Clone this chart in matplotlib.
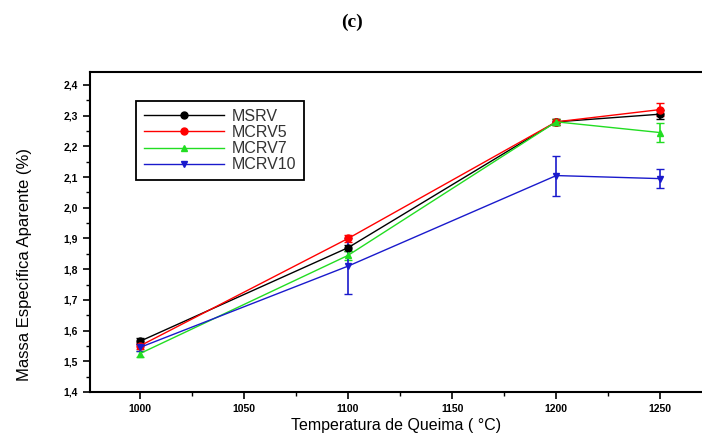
import matplotlib
matplotlib.use('Agg')
import matplotlib.pyplot as plt
from matplotlib.ticker import MultipleLocator, FuncFormatter

plt.rcParams['font.family'] = ['Liberation Sans', 'DejaVu Sans']

# temperatures (°C)
temps = [1000, 1100, 1200, 1250]

# apparent specific mass per composition
msrv = [1.565, 1.87, 2.28, 2.305]
mcrv5 = [1.55, 1.90, 2.28, 2.32]
mcrv7 = [1.525, 1.845, 2.28, 2.245]
mcrv10 = [1.545, 1.81, 2.105, 2.095]

# error bars
msrv_err = [0.01, 0.01, 0.01, 0.015]
mcrv5_err = [0.01, 0.01, 0.01, 0.02]
mcrv7_err = [0.01, 0.015, 0.01, 0.03]
mcrv10_err = [0.01, 0.09, 0.065, 0.03]

series = [
    ('MSRV', msrv, msrv_err, 'black', 'o'),
    ('MCRV5', mcrv5, mcrv5_err, 'red', 'o'),
    ('MCRV7', mcrv7, mcrv7_err, '#22dd22', '^'),
    ('MCRV10', mcrv10, mcrv10_err, '#1a1acc', 'v'),
]

fig = plt.figure(figsize=(7.02, 4.37), dpi=100)
ax = fig.add_axes([0.128, 0.103, 0.872, 0.732])

#draw every series with its error bars
handles = []
for name, vals, errs, col, mk in series:
    c = ax.errorbar(temps, vals, yerr=errs, color=col, marker=mk, markersize=5,
                    linewidth=1.0, elinewidth=1.2, capsize=3, label=name)
    handles.append(c.lines[0])

ax.set_xlim(976, 1270)
ax.set_ylim(1.4, 2.442)
ax.xaxis.set_major_locator(MultipleLocator(50))
ax.xaxis.set_minor_locator(MultipleLocator(25))
ax.yaxis.set_major_locator(MultipleLocator(0.1))
ax.yaxis.set_minor_locator(MultipleLocator(0.05))
ax.yaxis.set_major_formatter(FuncFormatter(lambda v, p: ('%.1f' % v).replace('.', ',')))
ax.tick_params(which='major', direction='out', length=5, width=1.2, labelsize=7.5)
ax.tick_params(which='minor', direction='out', length=3, width=1.0)
for lab in ax.get_xticklabels() + ax.get_yticklabels():
    lab.set_fontweight('bold')
ax.spines['right'].set_visible(False)
for s in ['left', 'bottom', 'top']:
    ax.spines[s].set_linewidth(1.5)

ax.set_xlabel('Temperatura de Queima ( °C)', fontsize=11.5, labelpad=3)
ax.set_ylabel('Massa Específica Aparente (%)', fontsize=12)
ax.yaxis.set_label_coords(-0.095, 0.40)

leg = ax.legend(handles=handles, labels=[s[0] for s in series],
                loc='upper left', bbox_to_anchor=(0.182, 0.788),
                bbox_transform=fig.transFigure, fontsize=11.5, handlelength=5,
                fancybox=False, framealpha=1, edgecolor='black',
                borderpad=0.5, labelspacing=0.08, handletextpad=0.5)
leg.get_frame().set_linewidth(1.3)
for t in leg.get_texts():
    t.set_color('#333333')

fig.text(0.502, 0.95, '(c)', ha='center', va='center', fontsize=14,
         fontweight='bold', family='Liberation Serif')

fig.savefig('out.png', dpi=100)
